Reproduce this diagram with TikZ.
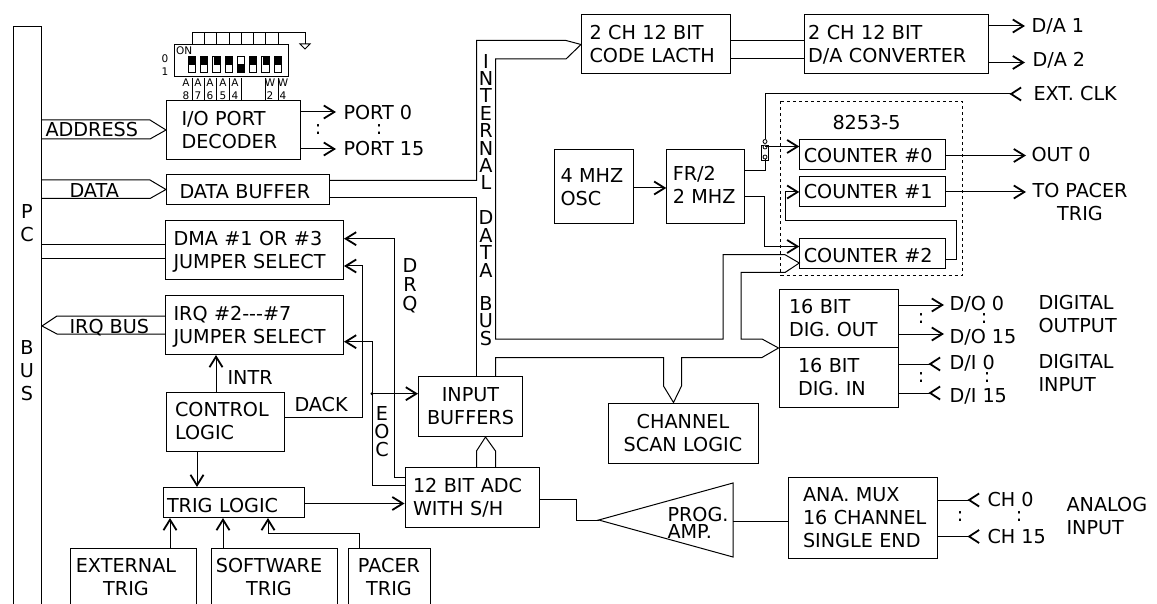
\documentclass[tikz,border=0pt]{standalone}
\usepackage{fontspec}
\setmainfont{DejaVu Sans}
\usetikzlibrary{arrows.meta,calc}
\newcommand{\mainsize}{\fontsize{19.2}{23}\selectfont}
\begin{document}
\begin{tikzpicture}[
    x=1pt, y=-1pt,
    font=\mainsize,
    line width=1pt,
    box/.style n args={3}{draw, anchor=north west, align=left, inner ysep=0pt,
                 minimum height=#2, inner xsep=#3, text width=#1-2*#3},
    lbl/.style={anchor=west, inner sep=0pt, align=left},
    stack/.style={inner sep=0pt, align=center, font=\fontsize{19.2}{17.4}\selectfont},
    tiny/.style={inner sep=0pt, align=center, font=\fontsize{10.5}{13}\selectfont},
    arr/.style={-{Straight Barb[length=10.5pt,width=13pt,line width=1.8pt]}},
    inp/.style={-{Straight Barb[reversed,length=10pt,width=13pt,line width=1.8pt]}}
]
\path[use as bounding box, clip] (0,0) rectangle (1157,604);

\node[draw, anchor=north west, minimum width=28, minimum height=600, inner sep=0pt] (pc) at (13,26) {};
\node[inner sep=0pt, align=center] (pctxt) at (27,223) {P\\C};
\node[inner sep=0pt, align=center] (bustxt) at (27,371) {B\\U\\S};

\node[draw, anchor=north west, minimum width=114.5, minimum height=32, inner sep=0pt] (sw) at (173.5,44) {};
\node[tiny, anchor=west] (swon) at (175.5,51) {ON};
\node[tiny] (sw0) at (165,59) {0};
\node[tiny] (sw1) at (165,72) {1};
\coordinate (swcomb) at (305,33);
\draw (192,44) |- (swcomb) -- ++(0,11) coordinate (gnd);
\draw (gnd) -- ++(-5,0) -- ++(5,5) -- ++(5,-5) -- cycle;
\foreach \xx in {192,204,216.5,229,241,253,265.5,278}{
    \draw (\xx,33) -- (\xx,44);
    \draw[line width=0.8pt] (\xx-3.8,56) rectangle (\xx+3.8,72);
}
\foreach \xx in {192,204,216.5,229,253,265.5,278}{
    \fill (\xx-3,56) rectangle (\xx+3,65);
}
\fill (241-3,64) rectangle (241+3,72);
\foreach \xx/\aa/\bb in {186/A/8,198/A/7,210/A/6,223/A/5,235/A/4,270/W/2,283/W/4}{
    \node[tiny] (lb\aa\bb) at (\xx,89) {\aa\\\bb};
}
\foreach \xx in {192.5,204,216,229,241,265,278}{
    \draw[line width=0.8pt] (\xx,78) -- (\xx,100);
}

\node[box={134}{59}{15}] (dec) at (166,100) {I/O PORT\\DECODER};
\node[box={163}{30}{13}] (buf) at (166,174) {\rule{0pt}{18pt}DATA BUFFER};
\node[box={178}{59}{8}] (dma) at (165,220) {DMA \#1 OR \#3\\\smash{JUMPER SELECT}};
\node[box={178}{59}{8}] (irq) at (165,295) {IRQ \#2-{}-{}-\#7\\\smash{JUMPER SELECT}};
\node[box={118.5}{59}{9}] (ctl) at (165.5,391.5) {CONTROL\\LOGIC};
\node[box={141.5}{30}{4}] (trg) at (162.5,487) {\rule{0pt}{20pt}TRIG LOGIC};
\node[draw, anchor=north west, minimum width=126, minimum height=70, inner sep=0pt, align=center] (ext) at (70,548) {};
\node[draw, anchor=north west, minimum width=126, minimum height=70, inner sep=0pt] (sft) at (211,548) {};
\node[draw, anchor=north west, minimum width=82, minimum height=70, inner sep=0pt] (pcr) at (348,548) {};
\node[inner sep=0pt, align=center] (exttxt) at (126,577.5) {EXTERNAL\\TRIG};
\node[inner sep=0pt, align=center] (sfttxt) at (269,577.5) {SOFTWARE\\TRIG};
\node[inner sep=0pt, align=center] (pcrtxt) at (389,577.5) {PACER\\TRIG};
\node[box={134.5}{60}{8}] (adc) at (404.5,467) {12 BIT ADC\\WITH S/H};
\node[box={104}{60}{7}, align=center] (inb) at (418,376) {INPUT\\BUFFERS};
\node[box={150}{60}{7}, align=center] (scn) at (607.5,402.5) {CHANNEL\\SCAN LOGIC};
\node[box={148.5}{59}{8}] (lat) at (581,14.5) {2 CH 12 BIT\\CODE LACTH};
\node[box={184}{59}{4}] (dac) at (803.7,14.5) {2 CH 12 BIT\\D/A CONVERTER};
\node[box={79}{73.5}{6}] (osc) at (554,149.5) {4 MHZ\\OSC};
\node[box={78}{73.5}{6}] (frd) at (666.3,149.5) {FR/2\\2 MHZ\rule[-4pt]{0pt}{0pt}};
\node[box={145.7}{30}{4}] (ct0) at (799.3,139) {\rule{0pt}{17pt}COUNTER \#0};
\node[box={145.7}{30}{4}] (ct1) at (799.3,176.5) {COUNTER \#1};
\node[box={145.7}{30}{4}] (ct2) at (799.3,238.5) {\rule{0pt}{18pt}COUNTER \#2};
\node[box={119.5}{58.5}{10}] (dou) at (778.5,288.5) {16 BIT\\DIG. OUT};
\node[box={119.5}{60}{19}] (din) at (778.5,347) {16 BIT\\DIG. IN};
\node[box={149.5}{81.5}{15}] (mux) at (787.5,476.5) {ANA. MUX\\\mbox{16 CHANNEL}\\\mbox{SINGLE END}};

\draw[dashed, line width=0.9pt] (780.5,101.5) rectangle (962,275.5);
\node[lbl] (cnt) at (832,122.5) {8253-5};

\node[lbl] (adr) at (45,130) {ADDRESS};
\node[lbl] (dat) at (69,191) {DATA};
\node[lbl] (irb) at (69,328) {IRQ BUS};
\node[lbl] (intr) at (227,378) {INTR};
\node[lbl] (dak) at (294,405) {DACK};
\node[stack, font=\fontsize{19.2}{19}\selectfont] (drq) at (410,286) {D\\R\\Q};
\node[stack, font=\fontsize{19.2}{18}\selectfont] (eoc) at (382,432) {E\\O\\C};
\node[stack] (intl) at (486,122) {I\\N\\T\\E\\R\\N\\A\\L};
\node[stack] (dta) at (486,244) {D\\A\\T\\A};
\node[stack] (bs) at (486,321) {B\\U\\S};

\node[lbl] (prt0) at (343,113) {PORT 0};
\node[lbl] (prt15) at (343,149) {PORT 15};
\node[lbl] (da1) at (1031,26) {D/A 1};
\node[lbl] (da2) at (1032,60) {D/A 2};
\node[lbl] (ecl) at (1033,94) {EXT. CLK};
\node[lbl] (ou0) at (1031,155) {OUT 0};
\node[inner sep=0pt, align=center] (tpc) at (1080,202) {TO PACER\\TRIG};
\node[lbl] (do0) at (949,304) {D/O 0};
\node[lbl] (do15) at (949,337) {D/O 15};
\node[lbl] (di0) at (949,363) {D/I 0};
\node[lbl] (di15) at (949,396) {D/I 15};
\node[lbl] (ch0) at (987,500) {CH 0};
\node[lbl] (ch15) at (987,537) {CH 15};
\node[inner sep=0pt, align=left, anchor=west] (dgo) at (1038,314.5) {DIGITAL\\OUTPUT};
\node[inner sep=0pt, align=left, anchor=west] (dgi) at (1038,373) {DIGITAL\\INPUT};
\node[inner sep=0pt, align=left, anchor=west] (anl) at (1066,516.5) {ANALOG\\INPUT};
\foreach \xx/\yy in {318/130,379/130,921/319,984/319,921/378,987/378,960/517,1019/517}{
    \node[inner sep=0pt] at (\xx,\yy) {:};
}

\draw (pc.east |- 0,120) -- (150,120) -- (dec.west) -- (150,139) -- (pc.east |- 0,139);
\draw (pc.east |- 0,180) -- (150,180) -- (buf.west) -- (150,198.5) -- (pc.east |- 0,198.5);
\draw (pc.east |- 0,245) -- (dma.west |- 0,245);
\draw (pc.east |- 0,259) -- (dma.west |- 0,259);
\draw (irq.west |- 0,316) -- (57,316) -- (pc.east |- 0,326) -- (57,334) -- (irq.west |- 0,334);

\draw[arr] (dec.east |- 0,112) -- (336,112);
\draw[arr] (dec.east |- 0,149) -- (336,149);

\draw (buf.east |- 0,180.5) -- (476.5,180.5) -- (476.5,40.5) -- (566,40.5) -- (lat.west) -- (566,59) -- (495.5,59) -- (495.5,339) -- (723,339) -- (723,254.7) -- (785,254.7) -- (ct2.west |- 0,263) -- (785,272.5) -- (741,272.5) -- (741,339) -- (762,339) -- (dou.south west) -- (762,357.5) -- (681.5,357.5) -- (681.5,386) -- (scn.north -| 673.5,0) -- (663.5,386) -- (663.5,357.5) -- (495.5,357.5) -- (495.5,376);
\draw (buf.east |- 0,198) -- (476.5,198) -- (476.5,376);
\draw (adc.north -| 476.5,0) -- (476.5,451) -- (inb.south -| 485.5,0) -- (495.5,451) -- (adc.north -| 495.5,0);

\draw (lat.east |- 0,40.5) -- (dac.west |- 0,40.5);
\draw (lat.east |- 0,59) -- (dac.west |- 0,59);
\draw[arr] (dac.east |- 0,26) -- (1025,26);
\draw[arr] (dac.east |- 0,62.5) -- (1025,62.5);
\draw[arr] (osc.east |- 0,188) -- (frd.west |- 0,188);

\draw[inp] (765,139.5) |- (1022,94);
\draw[line width=0.8pt] (761.5,145) rectangle (768.5,160);
\foreach \yy in {141.5,147,157}{
    \draw[line width=0.8pt, fill=white] (765,\yy) circle (2);
}
\draw (frd.east |- 0,171) -| (765,159);
\draw[arr] (765,146.5) -- (ct0.west |- 0,146.5);
\draw[arr] (frd.east |- 0,196.5) -| (764.5,246.5) -- (ct2.west |- 0,246.5);
\draw[arr] (ct0.east |- 0,155.5) -- (1026,155.5);
\draw[arr] (ct1.east |- 0,192) -- (1026,192);
\draw[arr] (ct2.east |- 0,260) -- (956.5,260) -- (956.5,221) -- (785.5,221) -- (785.5,192) -- (ct1.west |- 0,192);

\draw[arr] (adc.west |- 0,477.7) -- (394,477.7) -- (394,238.7) -- (dma.east |- 0,238.7);
\draw[arr] (ctl.east |- 0,417) -- (362.5,417) -- (362.5,266) -- (dma.east |- 0,266);
\draw[arr] (adc.west |- 0,485.7) -- (372,485.7) -- (372,341.7) -- (irq.east |- 0,341.7);
\fill (372,393.7) circle (1.6);
\draw[arr] (372,393.7) -- (inb.west |- 0,393.7);
\draw[arr] (ctl.north -| 216,0) -- (irq.south -| 216,0);
\draw[arr] (ctl.south -| 197,0) -- (trg.north -| 197,0);
\draw[arr] (trg.east |- 0,503.5) -- (adc.west |- 0,503.5);
\draw[arr] (ext.north -| 170,0) -- (trg.south -| 170,0);
\draw[arr] (sft.north -| 223,0) -- (trg.south -| 223,0);
\draw[arr] (pcr.north -| 359,0) -- (359,533) -- (268,533) -- (trg.south -| 268,0);

\draw (adc.east |- 0,499) -- (576,499) -- (576,520) -- (598.7,520) coordinate (amptip);
\draw (amptip) -- (733,483) -- (733,557) -- cycle;
\node[inner sep=0pt, align=left, anchor=west, font=\fontsize{19.2}{17}\selectfont] (amp) at (667,522.5) {PROG.\\AMP.};
\draw (733,521) -- (mux.west |- 0,521);

\draw[arr] (dou.east |- 0,305) -- (944,305);
\draw[arr] (dou.east |- 0,334) -- (944,334);
\draw[inp] (din.east |- 0,364) -- (941,364);
\draw[inp] (din.east |- 0,393) -- (941,393);
\draw[inp] (mux.east |- 0,500) -- (980,500);
\draw[inp] (mux.east |- 0,536.5) -- (980,536.5);
\end{tikzpicture}
\end{document}
